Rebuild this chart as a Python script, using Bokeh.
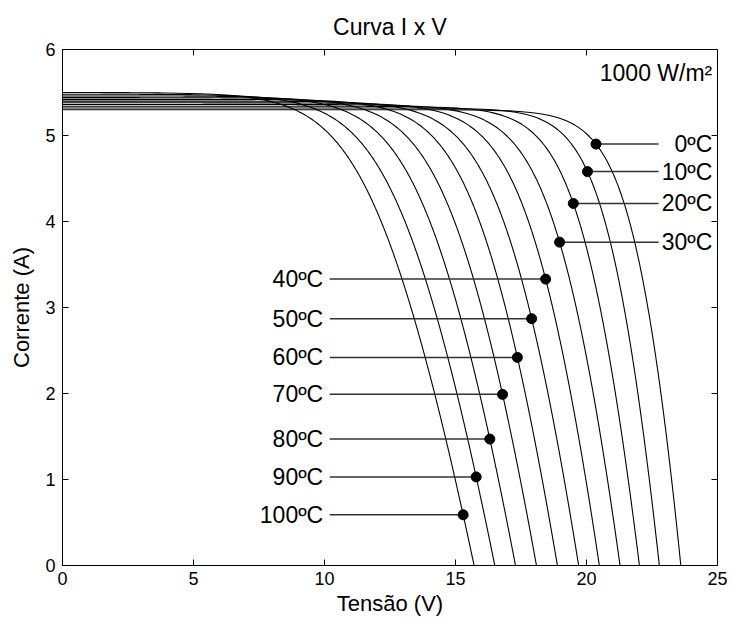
import numpy as np
from bokeh.plotting import figure
from bokeh.models import Range1d, FixedTicker, ColumnDataSource, Label
from bokeh.core.properties import value
from bokeh.embed import file_html
from bokeh.resources import INLINE

# Module I-V characteristic at 1000 W/m2 for cell temperatures 0..100 degC
temperatures = [0, 10, 20, 30, 40, 50, 60, 70, 80, 90, 100]
temp_labels = ["0ºC", "10ºC", "20ºC", "30ºC", "40ºC", "50ºC",
               "60ºC", "70ºC", "80ºC", "90ºC", "100ºC"]
short_circuit_current = [5.30, 5.32, 5.34, 5.36, 5.38, 5.40, 5.42, 5.44, 5.46, 5.48, 5.50]
open_circuit_voltage = [23.60, 22.78, 22.02, 21.28, 20.49, 19.70, 18.89, 18.09, 17.29, 16.50, 15.71]
# voltage at which each curve passes 4 A, 3 A, 2 A and 1 A
voltage_at_4a = [21.57, 20.62, 19.67, 18.72, 17.77, 16.82, 15.87, 14.92, 13.97, 13.02, 12.13]
voltage_at_3a = [22.40, 21.51, 20.56, 19.61, 18.72, 17.83, 16.95, 16.00, 15.11, 14.22, 13.33]
voltage_at_2a = [22.90, 22.02, 21.13, 20.24, 19.42, 18.53, 17.71, 16.88, 16.00, 15.11, 14.22]
voltage_at_1a = [23.35, 22.52, 21.70, 20.87, 19.99, 19.16, 18.34, 17.52, 16.69, 15.87, 15.04]
# current of the marked point on each curve
marker_current = [4.90, 4.58, 4.21, 3.76, 3.33, 2.87, 2.42, 1.99, 1.47, 1.03, 0.59]

x_ticks = [0, 5, 10, 15, 20, 25]
y_ticks = [0, 1, 2, 3, 4, 5, 6]

FONT = "Liberation Sans"


def series_resistance(t):
    return 0.15 + 0.003 * t


def curve_voltage(i, isc, voc, a, rs):
    # single-diode characteristic written as V(I)
    return voc + a * np.log(1.0 - i / isc) - i * rs


def fit_ideality(k):
    isc = short_circuit_current[k]
    voc = open_circuit_voltage[k]
    rs = series_resistance(temperatures[k])
    cur = np.array([4.0, 3.0, 2.0, 1.0])
    volt = np.array([voltage_at_4a[k], voltage_at_3a[k], voltage_at_2a[k], voltage_at_1a[k]])
    L = np.log(1.0 - cur / isc)
    y = volt - voc + cur * rs
    return float(np.sum(L * y) / np.sum(L * L))


p = figure(width=732, height=623, x_range=Range1d(0, 25), y_range=Range1d(0, 6),
           output_backend="svg", toolbar_location=None, title="Curva I x V",
           min_border_left=62, min_border_right=15, min_border_top=49, min_border_bottom=58)
p.background_fill_color = "white"
p.border_fill_color = "white"
p.outline_line_color = "black"
p.outline_line_width = 1
p.xgrid.visible = False
p.ygrid.visible = False

p.title.align = "center"
p.title.text_font = FONT
p.title.text_font_size = "23px"
p.title.text_font_style = "normal"
p.title.text_color = "black"
p.title.standoff = 20

for ax, ticks in ((p.xaxis[0], x_ticks), (p.yaxis[0], y_ticks)):
    ax.ticker = FixedTicker(ticks=ticks)
    ax.major_tick_in = 6
    ax.major_tick_out = 0
    ax.minor_tick_line_color = None
    ax.axis_line_color = "black"
    ax.major_tick_line_color = "black"
    ax.major_label_text_font = FONT
    ax.major_label_text_font_size = "18px"
    ax.major_label_text_color = "black"
    ax.axis_label_text_font = FONT
    ax.axis_label_text_font_size = "22px"
    ax.axis_label_text_font_style = "normal"
    ax.axis_label_text_color = "black"

p.xaxis.axis_label = "Tensão (V)"
p.yaxis.axis_label = "Corrente (A)"
p.xaxis.major_label_standoff = 6
p.yaxis.major_label_standoff = 7
p.xaxis.axis_label_standoff = 3
p.yaxis.axis_label_standoff = 8

# inward ticks along the top and right edges of the box
p.ray(x=x_ticks, y=[y_ticks[-1]] * len(x_ticks), length=6, length_units="screen",
      angle=-np.pi / 2, line_color="black", line_width=1)
p.ray(x=[x_ticks[-1]] * len(y_ticks), y=y_ticks, length=6, length_units="screen",
      angle=np.pi, line_color="black", line_width=1)

s = np.concatenate([np.geomspace(1e-20, 1e-3, 400), np.linspace(1e-3, 1.0, 600)[1:]])
dot_v, dot_i = [], []
for k, t in enumerate(temperatures):
    isc = short_circuit_current[k]
    voc = open_circuit_voltage[k]
    rs = series_resistance(t)
    a = fit_ideality(k)
    cur = isc * (1.0 - s)
    volt = voc + a * np.log(s) - cur * rs
    keep = volt > -1.0
    p.line(volt[keep], cur[keep], line_color="black", line_width=1.1)
    im = marker_current[k]
    dot_v.append(float(curve_voltage(im, isc, voc, a, rs)))
    dot_i.append(im)

n_right = 4
RIGHT_TEXT_X = 24.8
RIGHT_LINE_END = 22.75
LEFT_TEXT_X = 9.95
LEFT_LINE_START = 10.2

leaders = ColumnDataSource(dict(
    x0=[dot_v[k] if k < n_right else LEFT_LINE_START for k in range(len(temperatures))],
    x1=[RIGHT_LINE_END if k < n_right else dot_v[k] for k in range(len(temperatures))],
    y=dot_i,
))
p.segment(x0="x0", y0="y", x1="x1", y1="y", source=leaders,
          line_color="#333333", line_width=1.5)

p.scatter(dot_v, dot_i, size=10, fill_color="black", line_color="black")

right_src = ColumnDataSource(dict(x=[RIGHT_TEXT_X] * n_right, y=dot_i[:n_right],
                                  t=temp_labels[:n_right]))
left_src = ColumnDataSource(dict(x=[LEFT_TEXT_X] * (len(temperatures) - n_right),
                                 y=dot_i[n_right:], t=temp_labels[n_right:]))
for src in (right_src, left_src):
    p.text(x="x", y="y", text="t", source=src, text_font=value(FONT),
           text_font_size=value("23px"), text_align="right", text_baseline="middle",
           text_color="black")

p.add_layout(Label(x=24.8, y=5.73, text="1000 W/m²", text_font=FONT, text_font_size="23px",
                   text_align="right", text_baseline="middle", text_color="black"))

open("out.html", "w").write(file_html(p, INLINE))
